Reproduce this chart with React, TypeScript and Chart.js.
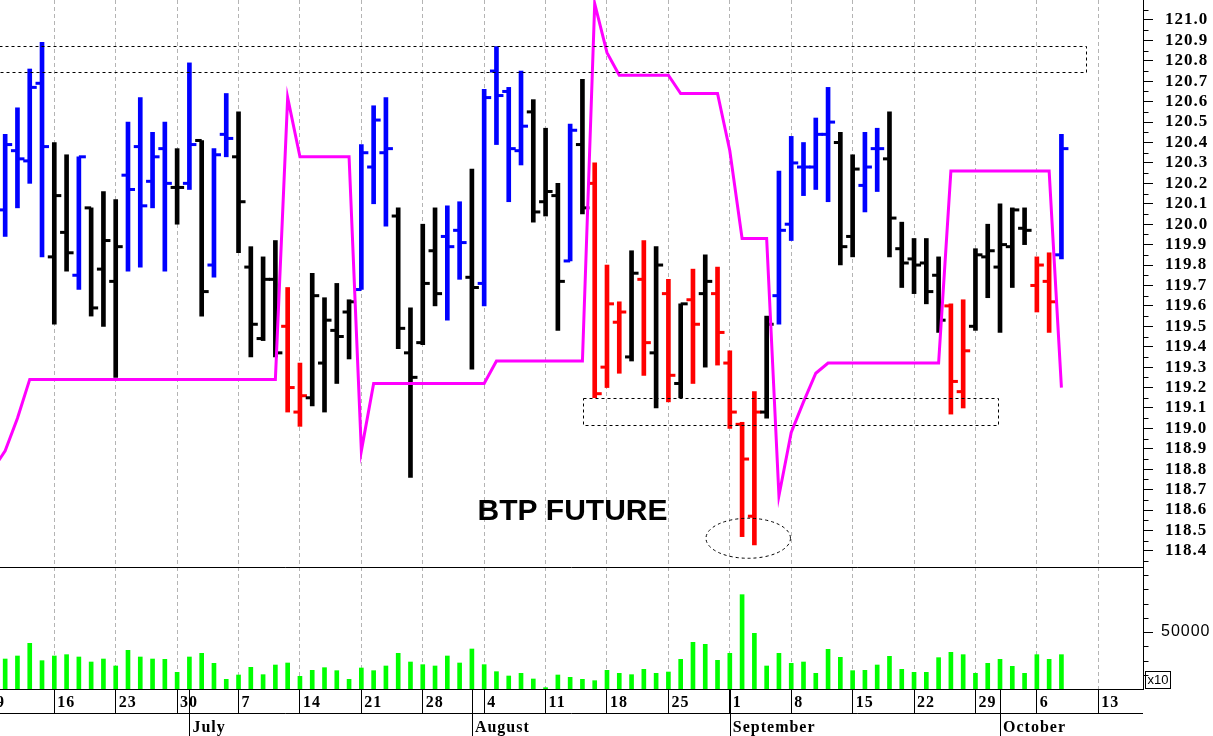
import React, { useEffect, useRef } from 'react';
import { Chart, registerables } from 'chart.js';

Chart.register(...registerables);

// ---------- DATA ----------
// Trading days (weekdays) 2014. x-value = trading-day number counted from Mon 2014-06-09 (= 0)
const tradingDates = [
  '2014-06-10', '2014-06-11', '2014-06-12', '2014-06-13',
  '2014-06-16', '2014-06-17', '2014-06-18', '2014-06-19', '2014-06-20',
  '2014-06-23', '2014-06-24', '2014-06-25', '2014-06-26', '2014-06-27',
  '2014-06-30', '2014-07-01', '2014-07-02', '2014-07-03', '2014-07-04',
  '2014-07-07', '2014-07-08', '2014-07-09', '2014-07-10', '2014-07-11',
  '2014-07-14', '2014-07-15', '2014-07-16', '2014-07-17', '2014-07-18',
  '2014-07-21', '2014-07-22', '2014-07-23', '2014-07-24', '2014-07-25',
  '2014-07-28', '2014-07-29', '2014-07-30', '2014-07-31', '2014-08-01',
  '2014-08-04', '2014-08-05', '2014-08-06', '2014-08-07', '2014-08-08',
  '2014-08-11', '2014-08-12', '2014-08-13', '2014-08-14', '2014-08-15',
  '2014-08-18', '2014-08-19', '2014-08-20', '2014-08-21', '2014-08-22',
  '2014-08-25', '2014-08-26', '2014-08-27', '2014-08-28', '2014-08-29',
  '2014-09-01', '2014-09-02', '2014-09-03', '2014-09-04', '2014-09-05',
  '2014-09-08', '2014-09-09', '2014-09-10', '2014-09-11', '2014-09-12',
  '2014-09-15', '2014-09-16', '2014-09-17', '2014-09-18', '2014-09-19',
  '2014-09-22', '2014-09-23', '2014-09-24', '2014-09-25', '2014-09-26',
  '2014-09-29', '2014-09-30', '2014-10-01', '2014-10-02', '2014-10-03',
  '2014-10-06', '2014-10-07', '2014-10-08',
];
const firstBarDay = 1; // 2014-06-10

const opens = [
  120.07, 120.36, 120.31, 120.69,
  119.84, 119.96, 119.75, 120.08, 119.78,
  119.72, 120.24, 120.38, 120.21, 120.37,
  120.18, 120.20, 120.41, 119.80, 120.44,
  120.33, 119.79, 119.44, 119.73, 119.50,
  119.08, 119.15, 119.32, 119.48, 119.57,
  119.68, 120.28, 120.35, 120.04, 119.37,
  119.42, 119.87, 119.94, 119.97, 119.74,
  119.71, 120.75, 120.65, 120.36, 120.55,
  120.11, 120.14, 119.82, 120.39, 120.20,
  119.30, 119.52, 119.35, 119.73, 119.37,
  119.66, 119.22, 119.63, 119.66, 119.66,
  119.32, 119.02, 118.57, 119.08, 119.65,
  120.00, 120.28, 120.28, 120.44, 120.40,
  119.94, 120.19, 120.37, 120.32, 119.88,
  119.83, 119.81, 119.75, 119.60, 119.18,
  119.50, 119.84, 119.79, 119.89, 119.98,
  119.70, 119.72, 119.85,
];
const highs = [
  120.44, 120.57, 120.76, 120.89,
  120.40, 120.34, 120.33, 120.08, 120.16,
  120.12, 120.50, 120.62, 120.45, 120.50,
  120.37, 120.79, 120.41, 120.37, 120.64,
  120.55, 119.89, 119.84, 119.92, 119.69,
  119.32, 119.76, 119.64, 119.71, 119.63,
  120.39, 120.58, 120.62, 120.08, 119.59,
  120.00, 120.08, 120.09, 120.11, 120.27,
  120.66, 120.87, 120.67, 120.75, 120.61,
  120.47, 120.20, 120.49, 120.71, 120.30,
  119.80, 119.62, 119.87, 119.92, 119.89,
  119.73, 119.61, 119.78, 119.85, 119.79,
  119.38, 119.03, 119.18, 119.55, 120.26,
  120.43, 120.40, 120.52, 120.67, 120.45,
  120.34, 120.45, 120.47, 120.55, 120.01,
  119.93, 119.93, 119.84, 119.61, 119.63,
  119.88, 120.00, 120.10, 120.08, 120.08,
  119.84, 119.86, 120.44,
];
const lows = [
  119.94, 120.08, 120.20, 119.84,
  119.51, 119.77, 119.68, 119.55, 119.50,
  119.25, 119.77, 119.79, 120.08, 119.77,
  120.00, 120.17, 119.55, 119.74, 120.33,
  119.86, 119.35, 119.43, 119.35, 119.08,
  119.01, 119.11, 119.08, 119.22, 119.34,
  119.68, 120.10, 119.99, 119.39, 118.76,
  119.41, 119.60, 119.53, 119.73, 119.29,
  119.60, 120.39, 120.11, 120.29, 120.01,
  120.04, 119.48, 119.82, 120.05, 119.15,
  119.20, 119.27, 119.33, 119.26, 119.10,
  119.13, 119.15, 119.22, 119.30, 119.31,
  119.00, 118.47, 118.43, 119.05, 119.51,
  119.92, 120.14, 120.17, 120.11, 119.80,
  119.84, 120.06, 120.16, 119.84, 119.69,
  119.66, 119.61, 119.47, 119.07, 119.10,
  119.48, 119.64, 119.47, 119.69, 119.90,
  119.57, 119.47, 119.83,
];
const closes = [
  120.39, 120.32, 120.67, 120.38,
  120.14, 119.86, 120.33, 119.59, 119.92,
  119.89, 120.17, 120.09, 120.33, 120.20,
  120.18, 120.39, 119.67, 120.34, 120.42,
  120.11, 119.51, 119.73, 119.37, 119.20,
  119.16, 119.65, 119.53, 119.45, 119.62,
  120.35, 120.51, 120.37, 119.49, 119.25,
  119.71, 119.66, 119.89, 119.91, 119.69,
  120.62, 120.63, 120.37, 120.48, 120.06,
  120.16, 119.72, 120.46, 120.08, 119.17,
  119.61, 119.57, 119.76, 119.42, 119.80,
  119.26, 119.61, 119.51, 119.72, 119.47,
  119.08, 118.85, 119.08, 119.51, 119.97,
  120.30, 120.28, 120.44, 120.50, 119.89,
  120.27, 120.28, 120.37, 120.03, 119.81,
  119.80, 119.67, 119.53, 119.23, 119.38,
  119.85, 119.87, 119.90, 120.07, 119.97,
  119.80, 119.62, 120.37,
];
// B = blue, K = black, R = red
const barColors = [
  'B', 'B', 'B', 'B',
  'K', 'K', 'B', 'K', 'K',
  'K', 'B', 'B', 'B', 'B',
  'K', 'B', 'K', 'B', 'B',
  'K', 'K', 'K', 'K', 'R',
  'R', 'K', 'K', 'K', 'K',
  'B', 'B', 'B', 'K', 'K',
  'K', 'K', 'B', 'B', 'K',
  'B', 'B', 'B', 'B', 'K',
  'K', 'K', 'B', 'K', 'R',
  'R', 'R', 'K', 'R', 'K',
  'R', 'K', 'R', 'K', 'R',
  'R', 'R', 'R', 'K', 'B',
  'B', 'B', 'B', 'B', 'K',
  'K', 'B', 'B', 'K', 'K',
  'K', 'K', 'K', 'R', 'R',
  'K', 'K', 'K', 'K', 'K',
  'R', 'R', 'B',
];
const volumes = [
  26300, 28950, 40060, 24850,
  28950, 30120, 28070, 23680, 26300,
  20180, 33920, 28070, 26300, 26020,
  14620, 28070, 31290, 22510, 8480,
  12280, 19010, 12570, 21050, 22810,
  11110, 16370, 18710, 16080, 8480,
  18420, 16080, 20180, 31290, 23680,
  21350, 20180, 28950, 22810, 35090,
  21350, 15200, 11400, 13740, 8770,
  1170, 12280, 10230, 8480, 7310,
  16370, 13740, 12570, 17250, 13740,
  14910, 26020, 40940, 39180, 25150,
  31290, 82750, 48830, 20180, 31290,
  22510, 23680, 13740, 34800, 27780,
  16080, 16370, 21050, 28660, 17250,
  14620, 14620, 27490, 32160, 30120,
  13740, 22510, 26020, 19880, 13740,
  30120, 26020, 30120,
];
// Magenta stop line, one value per trading day starting at day 0 (2014-06-09)
const stopStartDay = 0;
const stopValues = [
  118.80, 118.89, 119.05,
  119.24, 119.24, 119.24, 119.24, 119.24, 119.24, 119.24, 119.24, 119.24, 119.24, 119.24,
  119.24, 119.24, 119.24, 119.24, 119.24, 119.24, 119.24, 119.24, 119.24, 119.24,
  120.62,
  120.33, 120.33, 120.33, 120.33, 120.33,
  118.89,
  119.22, 119.22, 119.22, 119.22, 119.22, 119.22, 119.22, 119.22, 119.22, 119.22,
  119.33, 119.33, 119.33, 119.33, 119.33, 119.33, 119.33, 119.33,
  121.08, 120.84,
  120.73, 120.73, 120.73, 120.73, 120.73,
  120.64, 120.64, 120.64, 120.64,
  120.36,
  119.93, 119.93, 119.93,
  118.67, 118.98, 119.13, 119.27,
  119.32, 119.32, 119.32, 119.32, 119.32, 119.32, 119.32, 119.32, 119.32, 119.32,
  120.26, 120.26, 120.26, 120.26, 120.26, 120.26, 120.26, 120.26, 120.26,
  119.20,
];

// Axis tick labels
const weekTickDays = [0, 5, 10, 15, 20, 25, 30, 35, 40, 45, 50, 55, 60, 65, 70, 75, 80, 85, 90];
const dayLabels = ['9', '16', '23', '30', '7', '14', '21', '28', '4', '11', '18', '25', '1', '8', '15', '22', '29', '6', '13'];
const monthStartDays = [16, 39, 60, 82];
const monthLabels = ['July', 'August', 'September', 'October'];
const priceTicks = [
  118.4, 118.5, 118.6, 118.7, 118.8, 118.9, 119.0, 119.1, 119.2, 119.3, 119.4,
  119.5, 119.6, 119.7, 119.8, 119.9, 120.0, 120.1, 120.2, 120.3, 120.4, 120.5,
  120.6, 120.7, 120.8, 120.9, 121.0,
];
const volumeTicks = [50000];
const volumeMinorTicks = [12500, 25000, 37500, 62500, 75000, 87500, 100000];

// Annotations (in data units)
const zoneTop = { x0: 0, x1: 88.98, y0: 120.745, y1: 120.873 };
const zoneBottom = { x0: 48.07, x1: 81.86, y0: 119.017, y1: 119.147 };
const lowEllipse = { x: 61.5, y: 118.462, rx: 3.44, ry: 0.098 };
const titleText = { text: 'BTP FUTURE', x: 47.19, y: 118.591 };

// ---------- STYLE ----------
const colorMap: Record<string, string> = { B: '#0000ff', K: '#000000', R: '#ff0000' };
const serifBold = { family: 'Liberation Serif', weight: 'bold' as const };

const overlayPlugin = {
  id: 'overlay',
  beforeDraw(chart: any) {
    chart.ctx.letterSpacing = '1px';
  },
  beforeDatasetsDraw(chart: any) {
    chart.ctx.letterSpacing = '0px';
  },
  afterDatasetDraw(chart: any, args: any) {
    if (args.index !== 1) return;
    const { ctx } = chart;
    const xs = chart.scales.x;
    const ys = chart.scales.y;
    ctx.save();
    ctx.beginPath();
    ctx.rect(xs.left, ys.top, xs.right - xs.left, ys.bottom - ys.top);
    ctx.clip();
    for (let k = 0; k < opens.length; k++) {
      const px = xs.getPixelForValue(firstBarDay + k);
      const po = ys.getPixelForValue(opens[k]);
      const pc = ys.getPixelForValue(closes[k]);
      ctx.fillStyle = colorMap[barColors[k]];
      ctx.fillRect(px - 6.5, po - 1.5, 6.5, 3);
      ctx.fillRect(px, pc - 1.5, 7, 3);
    }
    ctx.restore();
  },
  afterDatasetsDraw(chart: any) {
    const { ctx } = chart;
    const xs = chart.scales.x;
    const ys = chart.scales.y;
    ctx.save();
    ctx.beginPath();
    ctx.rect(xs.left, ys.top, xs.right - xs.left, ys.bottom - ys.top);
    ctx.clip();
    ctx.strokeStyle = '#000';
    ctx.lineWidth = 1;
    ctx.setLineDash([3, 3]);
    for (const z of [zoneTop, zoneBottom]) {
      const x0 = Math.round(xs.getPixelForValue(z.x0)) + 0.5;
      const x1 = Math.round(xs.getPixelForValue(z.x1)) + 0.5;
      const y0 = Math.round(ys.getPixelForValue(z.y1)) + 0.5;
      const y1 = Math.round(ys.getPixelForValue(z.y0)) + 0.5;
      ctx.strokeRect(x0, y0, x1 - x0, y1 - y0);
    }
    const cx = xs.getPixelForValue(lowEllipse.x);
    const cy = ys.getPixelForValue(lowEllipse.y);
    const rx = xs.getPixelForValue(lowEllipse.x + lowEllipse.rx) - cx;
    const ry = cy - ys.getPixelForValue(lowEllipse.y + lowEllipse.ry);
    ctx.beginPath();
    ctx.ellipse(cx, cy, rx, ry, 0, 0, Math.PI * 2);
    ctx.stroke();
    ctx.setLineDash([]);
    ctx.fillStyle = '#000';
    ctx.font = 'bold 30px "Liberation Sans"';
    ctx.textAlign = 'center';
    ctx.textBaseline = 'middle';
    ctx.fillText(titleText.text, xs.getPixelForValue(titleText.x), ys.getPixelForValue(titleText.y));
    ctx.restore();
  },
  afterDraw(chart: any) {
    const { ctx } = chart;
    const xs = chart.scales.x;
    const ys = chart.scales.y;
    const yv = chart.scales.yv;
    ctx.save();
    ctx.strokeStyle = '#000';
    ctx.lineWidth = 1;
    ctx.setLineDash([]);
    // panel separator
    const sepY = Math.round(ys.bottom) + 0.5;
    ctx.beginPath();
    ctx.moveTo(xs.left, sepY);
    ctx.lineTo(xs.right, sepY);
    ctx.stroke();
    // minor ticks on price axis
    const axX = Math.round(ys.left) + 0.5;
    ctx.beginPath();
    for (let k = 0; k <= priceTicks.length; k++) {
      const v = priceTicks[0] - 0.05 + k * 0.1;
      const py = Math.round(ys.getPixelForValue(v)) + 0.5;
      if (py < ys.top || py > ys.bottom) continue;
      ctx.moveTo(axX, py);
      ctx.lineTo(axX + 5, py);
    }
    for (const v of volumeMinorTicks) {
      const py = Math.round(yv.getPixelForValue(v)) + 0.5;
      ctx.moveTo(axX, py);
      ctx.lineTo(axX + 5, py);
    }
    ctx.stroke();
    // date / month rows
    const rowY = Math.round(xs.top + 24) + 0.5;
    ctx.beginPath();
    ctx.moveTo(xs.left, rowY);
    ctx.lineTo(xs.right, rowY);
    for (const d of monthStartDays) {
      const px = Math.round(xs.getPixelForValue(d)) + 0.5;
      ctx.moveTo(px, xs.top);
      ctx.lineTo(px, chart.height);
    }
    ctx.stroke();
    ctx.fillStyle = '#000';
    ctx.font = 'bold 16px "Liberation Serif"';
    ctx.letterSpacing = '1px';
    ctx.textAlign = 'left';
    ctx.textBaseline = 'alphabetic';
    monthStartDays.forEach((d, k) => {
      ctx.fillText(monthLabels[k], xs.getPixelForValue(d) + 3, xs.top + 43);
    });
    ctx.letterSpacing = '0px';
    // x10 box
    const bx = Math.round(yv.left) + 2.5;
    const by = Math.round(yv.bottom) - 17.5;
    ctx.strokeRect(bx, by, 25, 17);
    ctx.font = '13px "Liberation Sans"';
    ctx.textBaseline = 'middle';
    ctx.fillText('x10', bx + 2, by + 9);
    ctx.restore();
  },
};

export default function App() {
  const ref = useRef<HTMLCanvasElement>(null);
  useEffect(() => {
    document.body.style.margin = '0';
    const canvas = ref.current;
    if (!canvas) return;
    const chart = new Chart(canvas, {
      type: 'bar',
      data: {
        datasets: [
          {
            type: 'line',
            label: 'Stop',
            data: stopValues.map((v, k) => ({ x: stopStartDay + k, y: v })),
            borderColor: '#ff00ff',
            borderWidth: 3,
            pointRadius: 0,
            tension: 0,
            fill: false,
            xAxisID: 'x',
            yAxisID: 'y',
          } as any,
          {
            type: 'bar',
            label: 'Range',
            data: highs.map((h, k) => ({ x: firstBarDay + k, y: [lows[k], h] })),
            backgroundColor: barColors.map((c) => colorMap[c]),
            barThickness: 4,
            grouped: false,
            xAxisID: 'x',
            yAxisID: 'y',
          } as any,
          {
            type: 'bar',
            label: 'Volume',
            data: volumes.map((v, k) => ({ x: firstBarDay + k, y: v })),
            backgroundColor: '#00ff00',
            barThickness: 4,
            grouped: false,
            xAxisID: 'x',
            yAxisID: 'yv',
          } as any,
        ],
      },
      options: {
        animation: false,
        responsive: false,
        events: [],
        layout: { padding: 0, autoPadding: false },
        plugins: { legend: { display: false }, tooltip: { enabled: false }, title: { display: false } },
        scales: {
          x: {
            type: 'linear',
            position: 'bottom',
            offset: false,
            min: 0.5789,
            max: 93.642,
            afterBuildTicks: (scale: any) => {
              scale.ticks = weekTickDays.map((value) => ({ value }));
            },
            afterFit: (scale: any) => {
              scale.height = 47;
              scale.paddingLeft = 0;
              scale.paddingRight = 0;
            },
            ticks: {
              autoSkip: false,
              maxRotation: 0,
              minRotation: 0,
              align: 'start',
              labelOffset: 3,
              padding: -20,
              color: '#000',
              font: { ...serifBold, size: 16 },
              callback: (_v: any, index: number) => dayLabels[index],
            },
            grid: {
              offset: false,
              color: '#b4b4b4',
              lineWidth: 1,
              drawOnChartArea: true,
              drawTicks: true,
              tickLength: 24,
              tickColor: '#000',
              tickWidth: 1,
              tickBorderDash: [],
            },
            border: { display: true, color: '#000', width: 1, dash: [4, 3] },
          } as any,
          y: {
            type: 'linear',
            position: 'right',
            stack: 'panels',
            stackWeight: 567,
            min: 118.3213,
            max: 121.0979,
            afterBuildTicks: (scale: any) => {
              scale.ticks = priceTicks.map((value) => ({ value }));
            },
            afterFit: (scale: any) => {
              scale.width = 70;
              scale.paddingTop = 0;
              scale.paddingBottom = 0;
            },
            ticks: {
              autoSkip: false,
              padding: 12,
              color: '#000',
              font: { ...serifBold, size: 17 },
              callback: (v: any) => Number(v).toFixed(1),
            },
            grid: { drawOnChartArea: false, drawTicks: true, tickLength: 10, tickColor: '#000', tickWidth: 1 },
            border: { display: true, color: '#000', width: 1 },
          } as any,
          yv: {
            type: 'linear',
            position: 'right',
            stack: 'panels',
            stackWeight: 122,
            min: 0,
            max: 107018,
            afterBuildTicks: (scale: any) => {
              scale.ticks = volumeTicks.map((value) => ({ value }));
            },
            afterFit: (scale: any) => {
              scale.width = 70;
              scale.paddingTop = 0;
              scale.paddingBottom = 0;
            },
            ticks: {
              autoSkip: false,
              padding: 8,
              color: '#000',
              font: { family: 'Liberation Sans', size: 16 },
              callback: (v: any) => String(v),
            },
            grid: { drawOnChartArea: false, drawTicks: true, tickLength: 10, tickColor: '#000', tickWidth: 1 },
            border: { display: true, color: '#000', width: 1 },
          } as any,
        },
      } as any,
      plugins: [overlayPlugin],
    });
    return () => chart.destroy();
  }, []);
  return (
    <div style={{ width: 1213, height: 736, position: 'relative', background: '#fff' }}>
      <canvas ref={ref} width={1213} height={736} style={{ display: 'block' }} />
    </div>
  );
}
